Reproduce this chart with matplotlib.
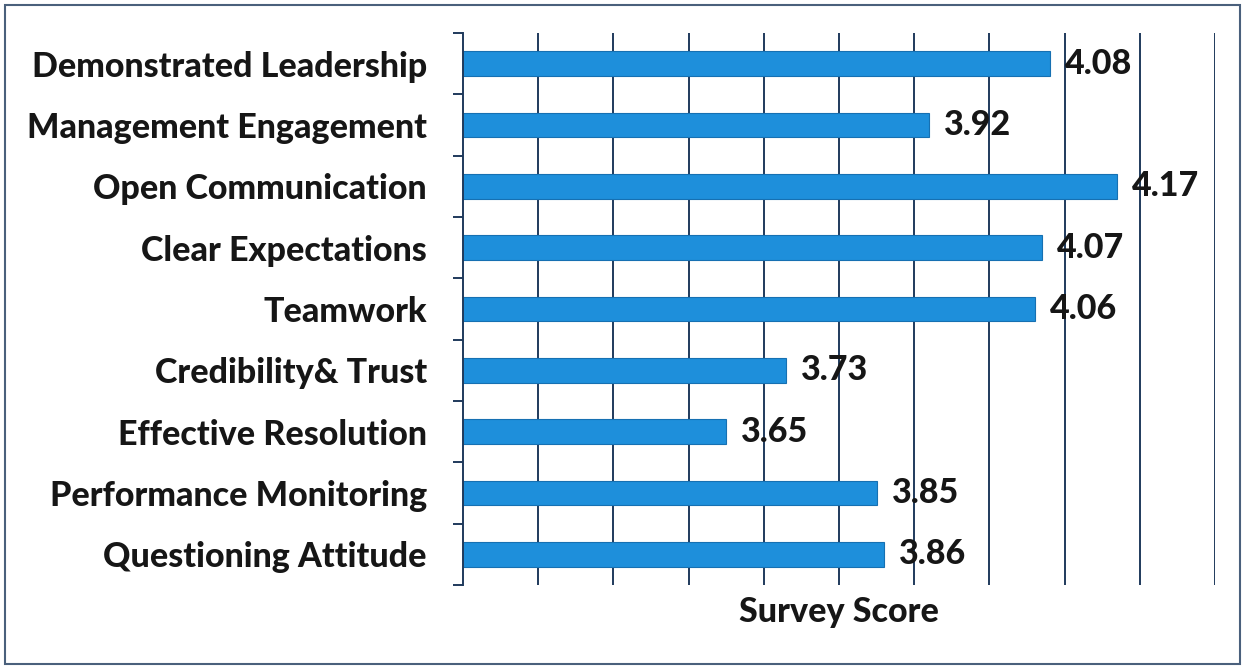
import matplotlib
matplotlib.use("Agg")
import matplotlib.pyplot as plt
from matplotlib.patches import Rectangle
import numpy as np

categories = ["Demonstrated Leadership", "Management Engagement", "Open Communication",
              "Clear Expectations", "Teamwork", "Credibility& Trust",
              "Effective Resolution", "Performance Monitoring", "Questioning Attitude"]
scores = [4.08, 3.92, 4.17, 4.07, 4.06, 3.73, 3.65, 3.85, 3.86]
x_min, x_max = 3.3, 4.3
grid_ticks = [3.4, 3.5, 3.6, 3.7, 3.8, 3.9, 4.0, 4.1, 4.2, 4.3]

plt.rcParams["font.family"] = ["Lato", "DejaVu Sans"]
navy = "#1f3a5c"
ink = "#161616"
fs = 24.5

fig = plt.figure(figsize=(12.45, 6.69), dpi=100)
ax = fig.add_axes([463 / 1245, 84 / 669, 752 / 1245, 552 / 669])

n = len(categories)
y = np.arange(n)[::-1]
ax.barh(y, scores, left=0, height=0.4, color="#1e8fdb", edgecolor="#1670b2",
        linewidth=0.8, zorder=2)
for yi, v in zip(y, scores):
    ax.text(v + 0.02, yi, "%.2f" % v, va="center", ha="left", fontsize=fs,
            fontweight=900, color=ink, zorder=4)

ax.set_xlim(x_min, x_max)
ax.set_ylim(-0.5, n - 0.5)
for g in grid_ticks:
    ax.axvline(g, color=navy, lw=1.4, zorder=1)

ax.set_yticks(y)
ax.set_yticklabels(categories, fontsize=fs, fontweight=900, color=ink)
ax.tick_params(axis="y", which="major", length=0, pad=26)
ax.set_yticks(np.arange(-0.5, n, 1.0), minor=True)
ax.tick_params(axis="y", which="minor", length=7, width=1.4, color=navy, left=True)
ax.set_xticks([])

for s in ["top", "right", "bottom"]:
    ax.spines[s].set_visible(False)
ax.spines["left"].set_color(navy)
ax.spines["left"].set_linewidth(1.4)

ax.set_xlabel("Survey Score", fontsize=fs, fontweight=900, color=ink, labelpad=8)

fig.patches.append(Rectangle((5 / 1245, 5 / 669), 1235 / 1245, 659 / 669,
                             transform=fig.transFigure, fill=False,
                             edgecolor="#4a607c", linewidth=1.5))

fig.savefig("out.png", dpi=100, facecolor="white")
